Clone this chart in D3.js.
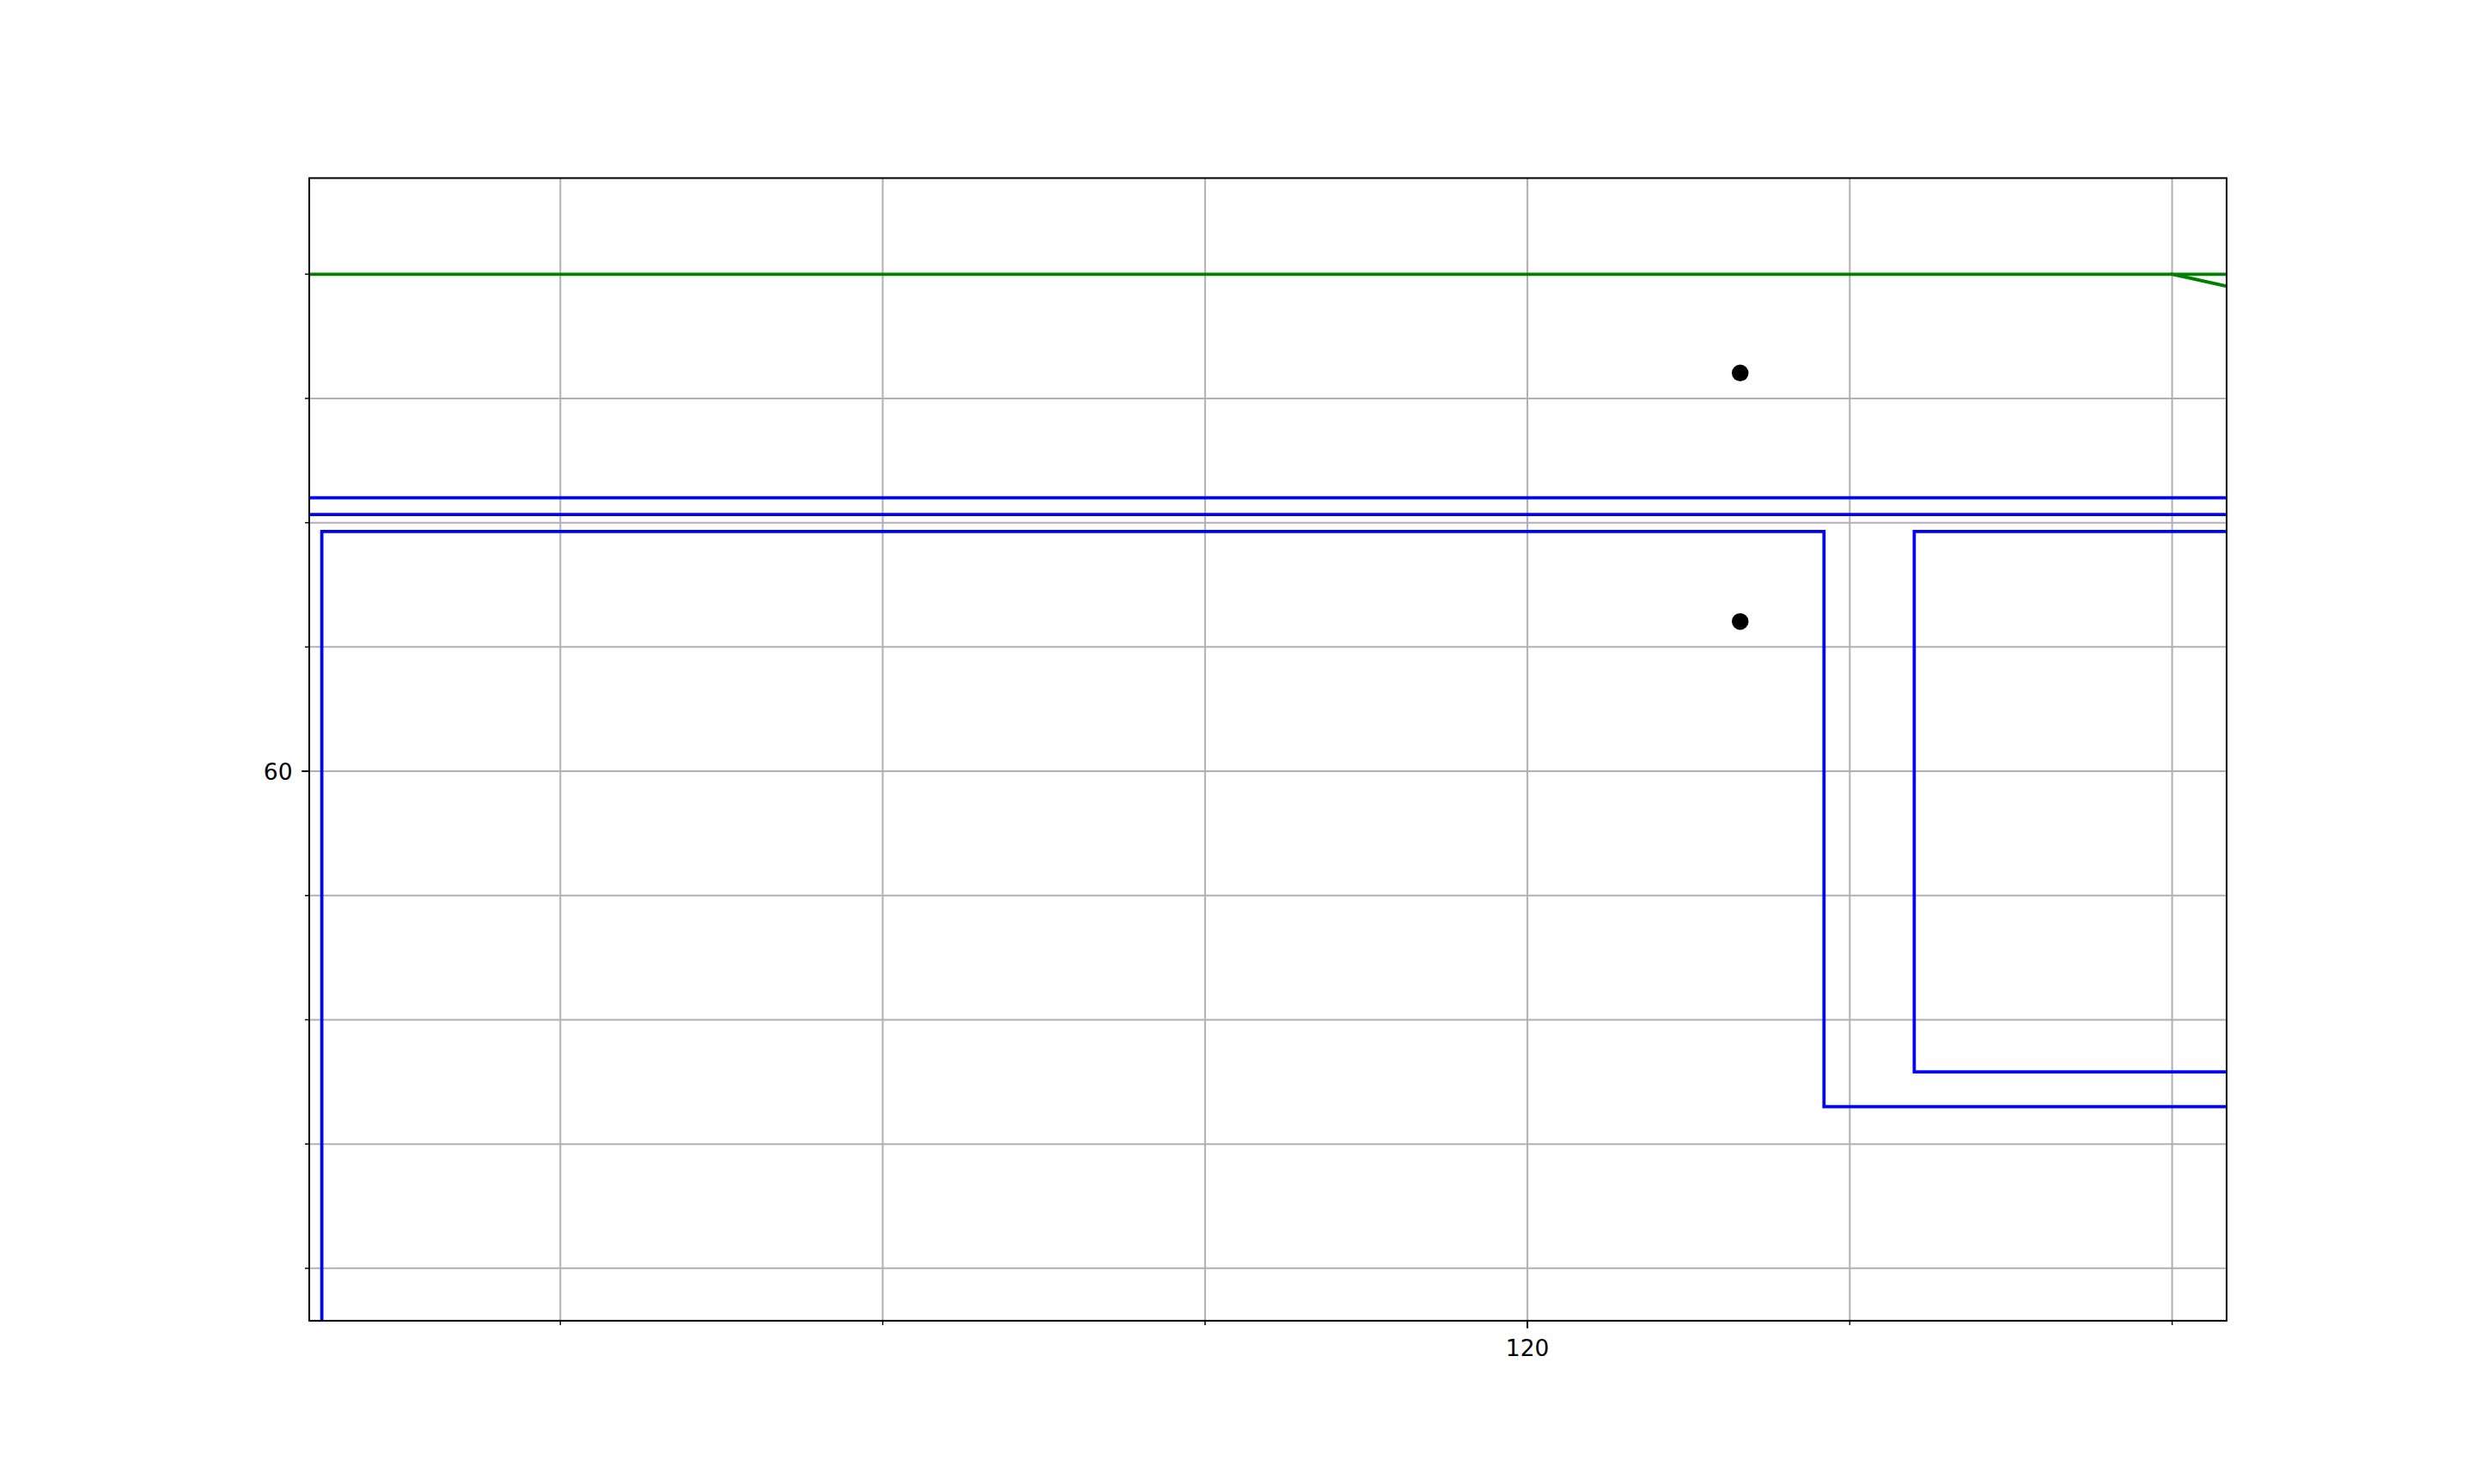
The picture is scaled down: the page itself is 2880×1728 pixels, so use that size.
<!DOCTYPE html>
<html>
<head>
<meta charset="utf-8">
<script src="https://cdn.jsdelivr.net/npm/d3@7"></script>
<style>
  html, body { margin: 0; padding: 0; background: #ffffff; }
  svg { display: block; }
  text { font-family: "DejaVu Sans", sans-serif; }
</style>
</head>
<body>
<script>
// ---- Data ----
const xDomain = [44.42, 163.38];
const yDomain = [15.78, 107.73];
const xTicks = [60, 80, 100, 120, 140, 160];
const yTicks = [20, 30, 40, 50, 60, 70, 80, 90, 100];
const xTickLabels = {120: "120"};
const yTickLabels = {60: "60"};

const greenFlatX = [40, 170];
const greenFlatY = [100, 100];
const greenSlopeX = [160, 170];
const greenSlopeY = [100, 97.13];

const blueLineAX = [40, 170];
const blueLineAY = [82.0, 82.0];
const blueLineBX = [40, 170];
const blueLineBY = [80.65, 80.65];

const blueStep1X = [45.2, 45.2, 138.4, 138.4, 170];
const blueStep1Y = [10, 79.3, 79.3, 33.0, 33.0];
const blueStep2X = [170, 144.0, 144.0, 170];
const blueStep2Y = [79.3, 79.3, 35.8, 35.8];

const dotsX = [133.2, 133.2];
const dotsY = [92.05, 72.05];

// ---- Layout ----
const W = 2880, H = 1728;
const mLeft = 360, mRight = 2592, mTop = 207.4, mBottom = 1537.9;
const fontPx = 26.5;

const svg = d3.select("body").append("svg")
  .attr("width", W).attr("height", H);
svg.append("rect").attr("width", W).attr("height", H).attr("fill", "#ffffff");

const x = d3.scaleLinear().domain(xDomain).range([mLeft, mRight]);
const y = d3.scaleLinear().domain(yDomain).range([mBottom, mTop]);

svg.append("defs").append("clipPath").attr("id", "clip")
  .append("rect").attr("x", mLeft).attr("y", mTop)
  .attr("width", mRight - mLeft).attr("height", mBottom - mTop);

// Grid
const grid = svg.append("g");
grid.selectAll("line.gx").data(xTicks).enter().append("line")
  .attr("x1", d => x(d)).attr("x2", d => x(d))
  .attr("y1", mTop).attr("y2", mBottom)
  .attr("stroke", "#b0b0b0").attr("stroke-width", 2);
grid.selectAll("line.gy").data(yTicks).enter().append("line")
  .attr("y1", d => y(d)).attr("y2", d => y(d))
  .attr("x1", mLeft).attr("x2", mRight)
  .attr("stroke", "#b0b0b0").attr("stroke-width", 2);

// Lines
const plot = svg.append("g").attr("clip-path", "url(#clip)");
const line = d3.line().x(d => x(d[0])).y(d => y(d[1]));
function addLine(xs, ys, color) {
  plot.append("path")
    .datum(xs.map((v, i) => [v, ys[i]]))
    .attr("d", line)
    .attr("fill", "none")
    .attr("stroke", color)
    .attr("stroke-width", 3.75)
    .attr("stroke-linejoin", "miter")
    .attr("stroke-linecap", "square");
}
addLine(greenFlatX, greenFlatY, "#008000");
addLine(greenSlopeX, greenSlopeY, "#008000");
addLine(blueLineAX, blueLineAY, "#0000ff");
addLine(blueLineBX, blueLineBY, "#0000ff");
addLine(blueStep1X, blueStep1Y, "#0000ff");
addLine(blueStep2X, blueStep2Y, "#0000ff");

plot.selectAll("circle.dot").data(dotsX.map((v, i) => [v, dotsY[i]]))
  .enter().append("circle")
  .attr("cx", d => x(d[0])).attr("cy", d => y(d[1]))
  .attr("r", 9.75).attr("fill", "#000000");

// Spines
svg.append("rect")
  .attr("x", mLeft).attr("y", mTop)
  .attr("width", mRight - mLeft).attr("height", mBottom - mTop)
  .attr("fill", "none").attr("stroke", "#000000").attr("stroke-width", 2);

// Ticks
const ax = svg.append("g");
ax.selectAll("line.tx").data(xTicks).enter().append("line")
  .attr("x1", d => x(d)).attr("x2", d => x(d))
  .attr("y1", mBottom).attr("y2", d => mBottom + (xTickLabels[d] ? 8.75 : 5))
  .attr("stroke", "#000000").attr("stroke-width", d => xTickLabels[d] ? 2 : 1.5);
ax.selectAll("text.tx").data(xTicks.filter(d => xTickLabels[d])).enter().append("text")
  .attr("x", d => x(d)).attr("y", mBottom + 41.5)
  .attr("text-anchor", "middle").attr("font-size", fontPx).attr("fill", "#000000")
  .text(d => xTickLabels[d]);

ax.selectAll("line.ty").data(yTicks).enter().append("line")
  .attr("y1", d => y(d)).attr("y2", d => y(d))
  .attr("x1", mLeft).attr("x2", d => mLeft - (yTickLabels[d] ? 8.75 : 5))
  .attr("stroke", "#000000").attr("stroke-width", d => yTickLabels[d] ? 2 : 1.5);
ax.selectAll("text.ty").data(yTicks.filter(d => yTickLabels[d])).enter().append("text")
  .attr("x", mLeft - 19.5).attr("y", d => y(d) + 10)
  .attr("text-anchor", "end").attr("font-size", fontPx).attr("fill", "#000000")
  .text(d => yTickLabels[d]);
</script>
</body>
</html>
